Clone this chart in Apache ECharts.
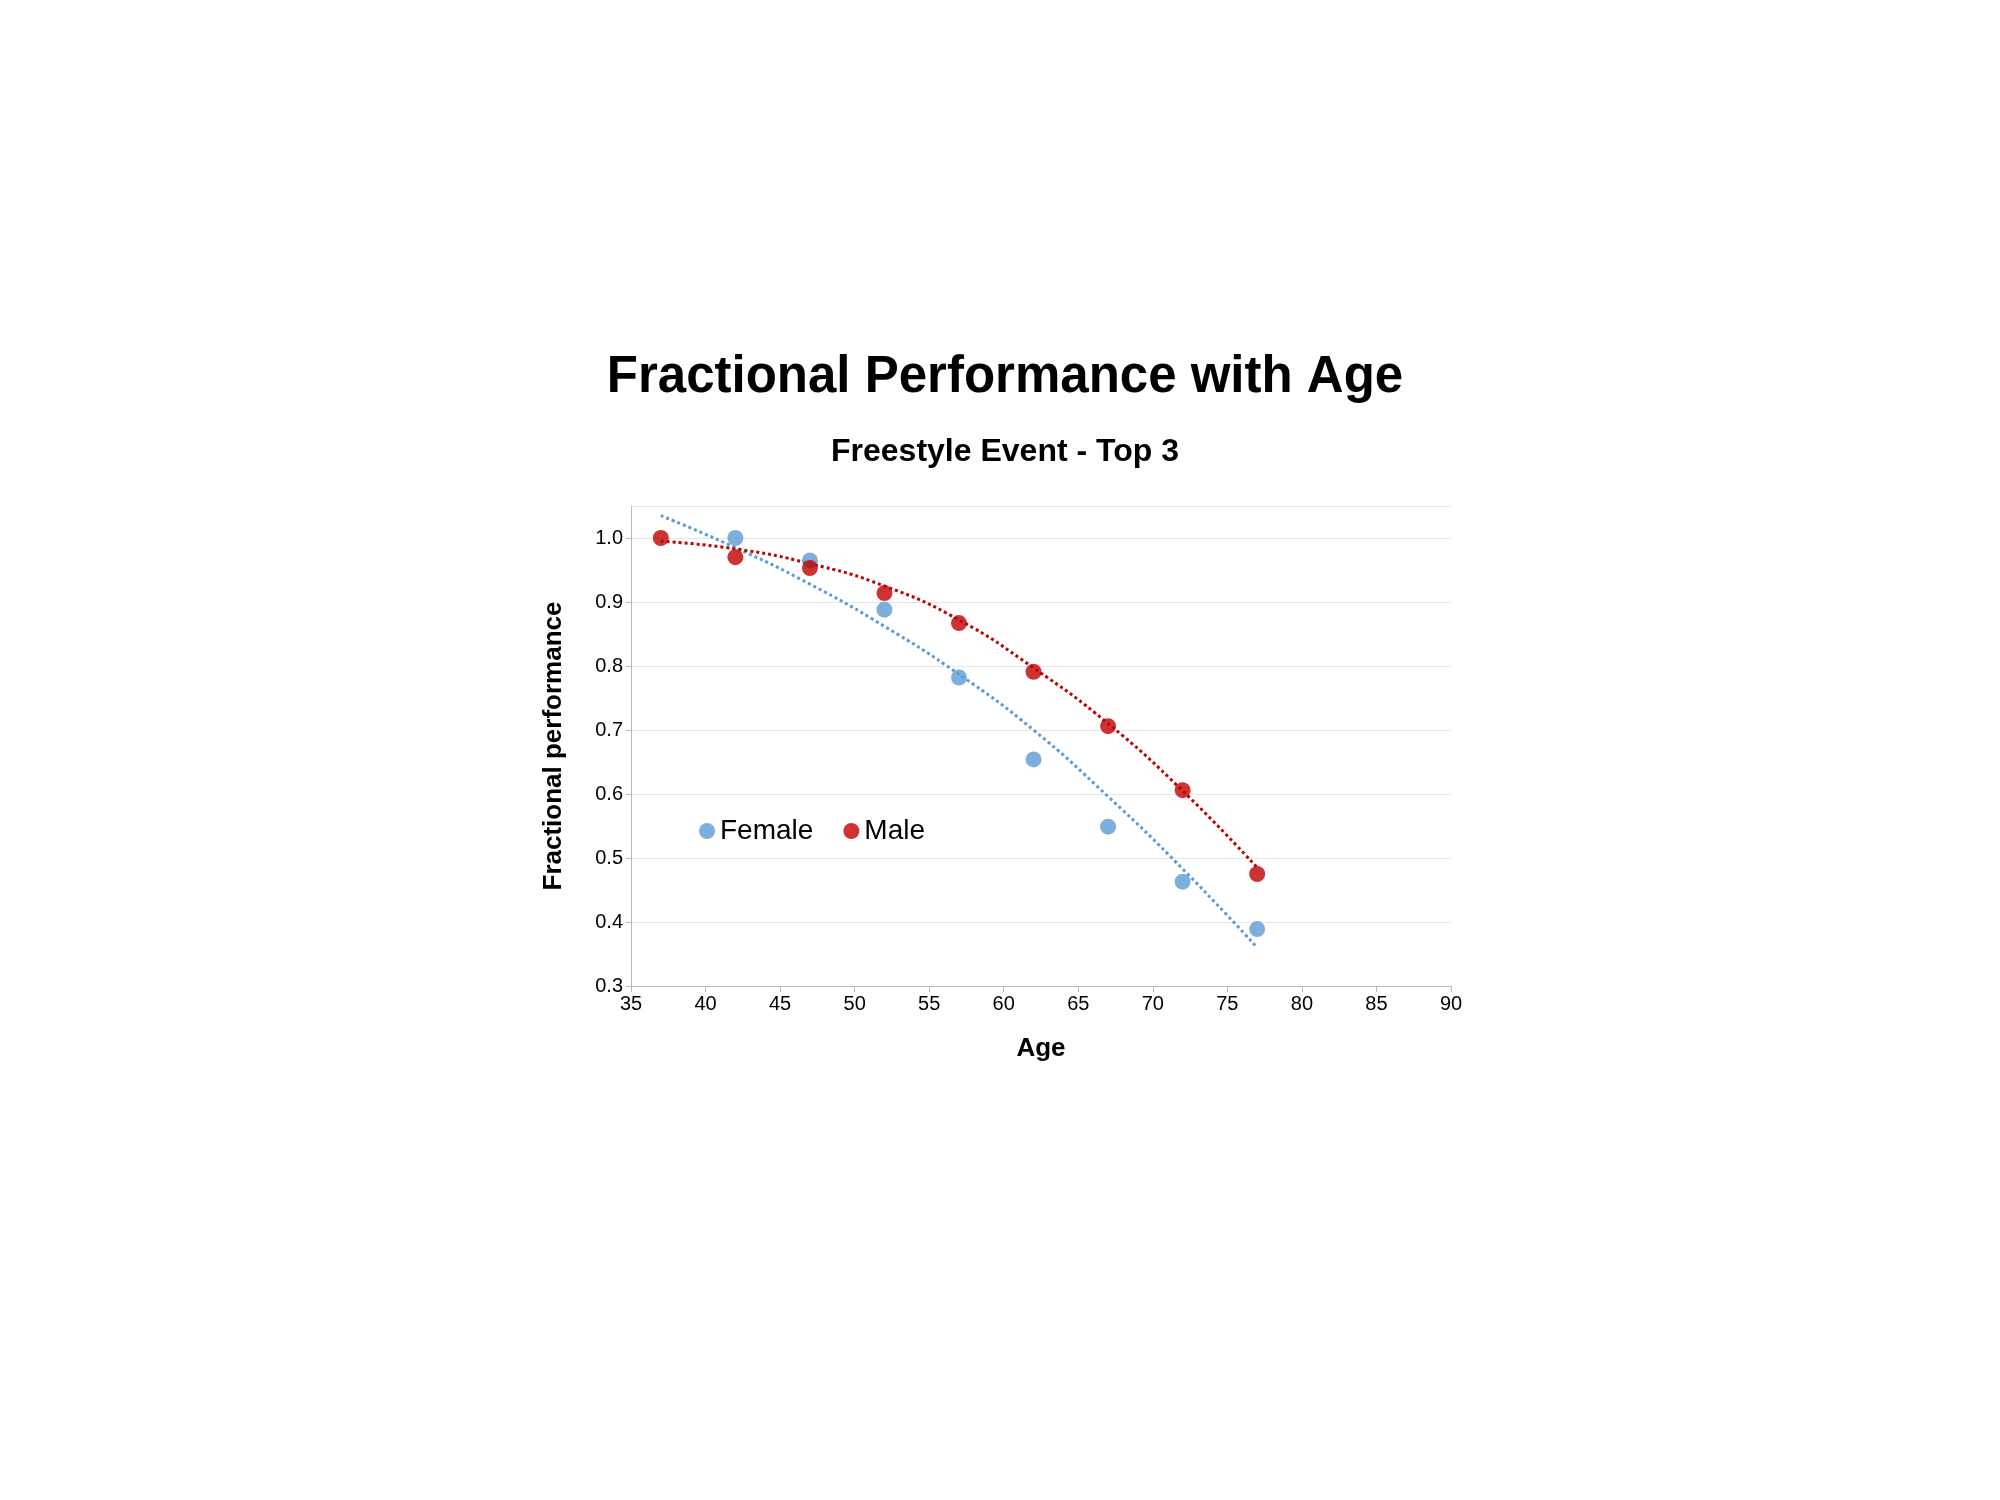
<!DOCTYPE html>
<html><head><meta charset="utf-8">
<script src="https://cdn.jsdelivr.net/npm/echarts@6/dist/echarts.min.js"></script>
<style>html,body{margin:0;background:#fff}#c{width:2000px;height:1500px}</style>
</head><body><div id="c"></div>
<script>
var ages = [37, 42, 47, 52, 57, 62, 67, 72, 77];
var femaleAges = [42, 47, 52, 57, 62, 67, 72, 77];
var femaleVals = [1.0, 0.965, 0.888, 0.782, 0.654, 0.549, 0.463, 0.389];
var maleVals = [1.0, 0.97, 0.953, 0.914, 0.867, 0.791, 0.706, 0.606, 0.475];
var femaleTrend = [1.035, 0.985, 0.928, 0.862, 0.787, 0.700, 0.596, 0.483, 0.36];
var maleTrend = [0.995, 0.983, 0.960, 0.925, 0.872, 0.797, 0.710, 0.605, 0.485];

var BLUE = '#5b9bd5', RED = '#c00000';
function pairs(xs, ys) { return xs.map(function (x, i) { return [x, ys[i]]; }); }

var chart = echarts.init(document.getElementById('c'));
chart.setOption({
  animation: false,
  textStyle: { fontFamily: 'Liberation Sans' },
  title: [
    { text: 'Fractional Performance with Age', left: 1000, top: 347, textAlign: 'center',
      textStyle: { fontSize: 51, fontWeight: 'bold', color: '#000' } },
    { text: 'Freestyle Event - Top 3', left: 1000, top: 431, textAlign: 'center',
      textStyle: { fontSize: 32, fontWeight: 'bold', color: '#000' } }
  ],
  legend: {
    left: 694, top: 812, itemGap: 30, itemWidth: 16, itemHeight: 16,
    textStyle: { fontSize: 28, color: '#000' },
    data: [{ name: 'Female', icon: 'circle' }, { name: 'Male', icon: 'circle' }]
  },
  grid: { left: 631, right: 549, top: 506, bottom: 514 },
  xAxis: {
    type: 'value', min: 35, max: 90, interval: 5,
    name: 'Age', nameLocation: 'middle', nameGap: 50,
    nameTextStyle: { fontSize: 26, fontWeight: 'bold', color: '#000' },
    axisLine: { lineStyle: { color: '#bbb' } },
    axisTick: { show: true, length: 6, lineStyle: { color: '#bbb' } },
    axisLabel: { fontSize: 20, color: '#000' },
    splitLine: { show: false }
  },
  yAxis: {
    type: 'value', min: 0.3, max: 1.05, interval: 0.1,
    name: 'Fractional performance', nameLocation: 'middle', nameGap: 64,
    nameTextStyle: { fontSize: 26, fontWeight: 'bold', color: '#000' },
    axisLine: { show: true, lineStyle: { color: '#bbb' } },
    axisLabel: { fontSize: 20, color: '#000', showMaxLabel: false,
      formatter: function (v) { return v.toFixed(1); } },
    splitLine: { lineStyle: { color: '#e6e6e6' } }
  },
  series: [
    { name: 'Female trend', type: 'line', smooth: true, symbol: 'none',
      data: pairs(ages, femaleTrend), lineStyle: { color: BLUE, width: 3, type: 'dotted' }, z: 1 },
    { name: 'Male trend', type: 'line', smooth: true, symbol: 'none',
      data: pairs(ages, maleTrend), lineStyle: { color: RED, width: 3, type: 'dotted' }, z: 1 },
    { name: 'Female', type: 'scatter', symbolSize: 16, itemStyle: { color: BLUE },
      data: pairs(femaleAges, femaleVals), z: 3 },
    { name: 'Male', type: 'scatter', symbolSize: 16, itemStyle: { color: RED },
      data: pairs(ages, maleVals), z: 3 }
  ]
});
</script></body></html>
